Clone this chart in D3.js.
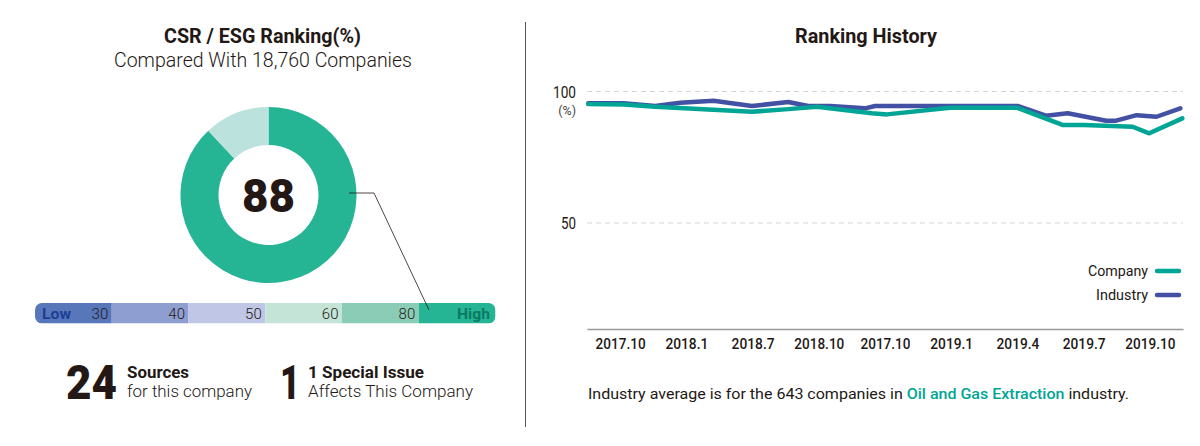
<!DOCTYPE html>
<html>
<head>
<meta charset="utf-8">
<script src="https://cdn.jsdelivr.net/npm/d3@7"></script>
<style>
  html, body { margin: 0; padding: 0; background: #fff; }
  svg { display: block; }
  text { font-family: Roboto, "Noto Sans", sans-serif; fill: #231815; }
</style>
</head>
<body>
<svg id="chart" width="1200" height="446"></svg>
<script>
// ranking donut
var donutLabels = ["score", "rest"];
var donutValues = [88, 12];
var donutColors = ["#25b595", "#bce2de"];

// low - high strip
var stripLabels = ["30", "40", "50", "60", "80", ""];
var stripColors = ["#5876ba", "#8f9ed0", "#c0c6e5", "#c3e4d7", "#8bccb6", "#25b595"];

// history lines, t is measured in tick slots from the left of the axis
var tickLabels = ["2017.10", "2018.1", "2018.7", "2018.10", "2017.10", "2019.1", "2019.4", "2019.7", "2019.10"];
var industryT = [0.02, 0.55, 1.03, 1.41, 1.91, 2.49, 3.04, 3.34, 3.67, 4.2, 4.35, 5.48, 6.5, 6.93, 7.26, 7.84, 7.99, 8.3, 8.6, 8.96];
var industryValues = [95.5, 95.5, 94.5, 95.7, 96.5, 94.5, 96, 94.5, 94.5, 93.6, 94.5, 94.5, 94.5, 90.8, 91.7, 88.9, 88.9, 91, 90.4, 93.6];
var companyT = [0.02, 0.55, 1.03, 2.49, 3.04, 3.47, 4.3, 4.53, 5.48, 6.5, 7.18, 7.5, 8.24, 8.49, 8.99];
var companyValues = [95.2, 95.1, 94.2, 92.3, 93.3, 94.2, 91.7, 91.3, 93.8, 93.8, 87.3, 87.3, 86.6, 84.1, 89.8];
var gridValues = [100, 50];

var svg = d3.select("#chart");

function label(x, y, str, size, weight, anchor, color) {
	return svg.append("text")
		.attr("x", x).attr("y", y)
		.attr("font-size", size)
		.attr("font-weight", weight || 400)
		.attr("text-anchor", anchor || "start")
		.style("fill", color || "#231815")
		.text(str);
}

// squeeze or stretch a text to the width it has in the picture
function fit(sel, w) {
	return sel.attr("textLength", w).attr("lengthAdjust", "spacingAndGlyphs");
}

// left panel
fit(label(262.5, 43, "CSR / ESG Ranking(%)", 19.5, 700, "middle"), 197);
fit(label(263, 67, "Compared With 18,760 Companies", 19.5, 300, "middle"), 298);

var arc = d3.arc().innerRadius(50).outerRadius(88);
var pie = d3.pie().sort(null)(donutValues);
svg.append("g").attr("transform", "translate(268.5,195)")
	.selectAll("path").data(pie).enter().append("path")
	.attr("d", arc)
	.attr("fill", function(d, i) { return donutColors[i]; });
fit(label(268.5, 212, "88", 47, 900, "middle"), 53);

// strip
var stripX = d3.scaleBand().domain(d3.range(stripColors.length)).range([35, 495.5]);
svg.append("clipPath").attr("id", "stripClip")
	.append("rect").attr("x", 35).attr("y", 303).attr("width", 460.5).attr("height", 20.5).attr("rx", 7);
var strip = svg.append("g").attr("clip-path", "url(#stripClip)");
strip.selectAll("rect").data(stripColors).enter().append("rect")
	.attr("x", function(d, i) { return stripX(i); })
	.attr("y", 303)
	.attr("width", stripX.bandwidth())
	.attr("height", 20.5)
	.attr("fill", function(d) { return d; });
stripLabels.forEach(function(s, i) {
	label(stripX(i) + stripX.bandwidth() - 3.5, 319, s, 15, 300, "end");
});
fit(label(42, 319, "Low", 15.5, 700, "start", "#1b3f94"), 29);
fit(label(457, 319, "High", 15.5, 700, "start", "#0b7a63"), 33);

// leader from donut to strip
svg.append("polyline")
	.attr("points", "349,193 374,193 429,310")
	.attr("fill", "none").attr("stroke", "#231815").attr("stroke-width", 0.8);

// counts
fit(label(66, 398.5, "24", 49, 900), 51);
fit(label(127, 378, "Sources", 16.5, 700), 62);
fit(label(127, 397, "for this company", 17, 300), 125);
fit(label(280, 398.5, "1", 49, 900), 20);
fit(label(308, 378, "1 Special Issue", 16.5, 700), 116);
fit(label(308, 397, "Affects This Company", 17, 300), 165);

// divider
svg.append("line").attr("x1", 525.5).attr("x2", 525.5).attr("y1", 22).attr("y2", 427)
	.attr("stroke", "#555").attr("stroke-width", 1);

// right panel
fit(label(866, 43, "Ranking History", 19.5, 700, "middle"), 142);

var x = d3.scaleLinear().domain([0, tickLabels.length]).range([587, 1183]);
var y = d3.scaleLinear().domain([9.7, 100]).range([329, 91.5]);

svg.append("g").selectAll("line").data(gridValues).enter().append("line")
	.attr("x1", 587).attr("x2", 1183)
	.attr("y1", function(d) { return y(d); })
	.attr("y2", function(d) { return y(d); })
	.attr("stroke", "#d5d5d5").attr("stroke-dasharray", "5 4");
gridValues.forEach(function(v) {
	fit(label(576, y(v) + 6, v, 16.5, 400, "end"), v === 100 ? 23 : 15);
});
label(576, 115, "(%)", 12.5, 400, "end", "#444");

// x axis
var axis = svg.append("g").attr("transform", "translate(0,329)")
	.call(d3.axisBottom(x)
		.tickValues(tickLabels.map(function(d, i) { return i + 0.5; }))
		.tickFormat(function(d, i) { return tickLabels[i]; })
		.tickSize(0).tickPadding(9));
axis.select(".domain").attr("stroke", "#999").attr("stroke-width", 1.5);
axis.selectAll("text").attr("font-size", 15).attr("font-weight", 500)
	.style("font-family", 'Roboto, "Noto Sans", sans-serif')
	.attr("lengthAdjust", "spacingAndGlyphs")
	.attr("textLength", function(d, i) { return tickLabels[i].length * 7.15; });

var line = d3.line()
	.x(function(d) { return x(d[0]); })
	.y(function(d) { return y(d[1]); });

svg.append("path").datum(d3.zip(industryT, industryValues))
	.attr("d", line).attr("fill", "none")
	.attr("stroke", "#4251a3").attr("stroke-width", 4.5)
	.attr("stroke-linecap", "round").attr("stroke-linejoin", "round");
svg.append("path").datum(d3.zip(companyT, companyValues))
	.attr("d", line).attr("fill", "none")
	.attr("stroke", "#00a596").attr("stroke-width", 4.5)
	.attr("stroke-linecap", "round").attr("stroke-linejoin", "round");

// legend
[["Company", "#00a596", 271, 60], ["Industry", "#4251a3", 295, 52]].forEach(function(l) {
	fit(label(1148, l[2] + 5, l[0], 15.5, 400, "end"), l[3]);
	svg.append("line").attr("x1", 1157).attr("x2", 1179).attr("y1", l[2]).attr("y2", l[2])
		.attr("stroke", l[1]).attr("stroke-width", 4.5).attr("stroke-linecap", "round");
});

// footnote
var note = label(588, 399, "", 15.5, 400);
note.append("tspan").text("Industry average is for the 643 companies in ");
note.append("tspan").style("fill", "#00a596").attr("font-weight", 500).text("Oil and Gas Extraction");
note.append("tspan").text(" industry.");
fit(note, 541);
</script>
</body>
</html>
